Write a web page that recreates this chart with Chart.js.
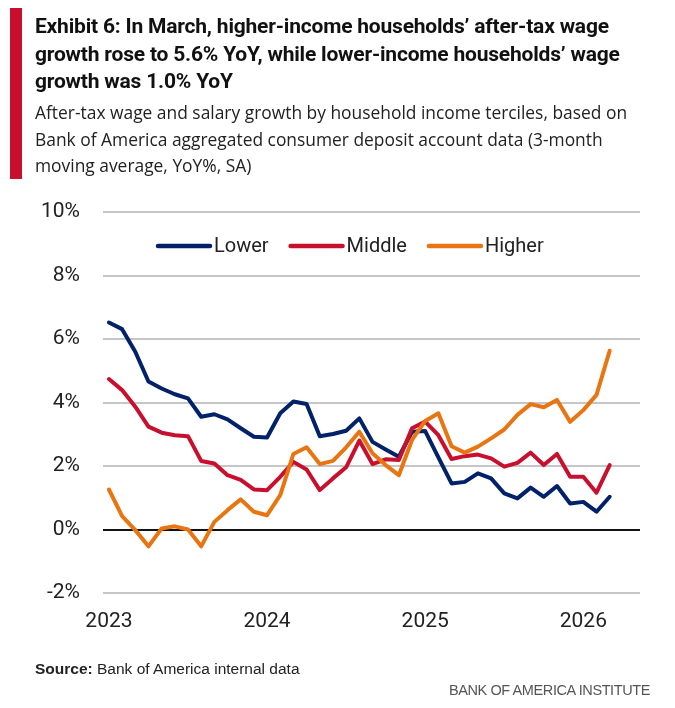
<!DOCTYPE html>
<html>
<head>
<meta charset="utf-8">
<script src="https://cdn.jsdelivr.net/npm/chart.js@4"></script>
<style>
  body { margin: 0; background: #fff; }
  #wrap { position: relative; width: 675px; height: 708px; overflow: hidden; }
  #bar { position: absolute; left: 10px; top: 8px; width: 12px; height: 171px; background: #c8102e; }
  #title { position: absolute; left: 35px; top: 13px; font-family: Roboto, sans-serif; font-weight: 700;
    font-size: 21px; line-height: 27.5px; color: #111; letter-spacing: -0.2px; white-space: nowrap; }
  #sub { position: absolute; left: 35px; top: 99px; font-family: "Open Sans", sans-serif;
    font-size: 17.4px; line-height: 26.5px; color: #222; white-space: nowrap; }
  #source { position: absolute; left: 35px; top: 660px; font-family: "Liberation Sans Narrow", sans-serif;
    font-size: 15.5px; color: #222; }
  #brand { position: absolute; right: 25px; top: 682px; font-family: "Liberation Sans Narrow", sans-serif;
    font-size: 14.5px; color: #555; letter-spacing: -0.4px; }
  canvas { position: absolute; left: 0; top: 0; }
</style>
</head>
<body>
<div id="wrap">
  <canvas id="myChart" width="675" height="708"></canvas>
  <div id="bar"></div>
  <div id="title">Exhibit 6: In March, higher-income households’ after-tax wage<br>growth rose to 5.6% YoY, while lower-income households’ wage<br>growth was 1.0% YoY</div>
  <div id="sub">After-tax wage and salary growth by household income terciles, based on<br>Bank of America aggregated consumer deposit account data (3-month<br>moving average, YoY%, SA)</div>
  <div id="source"><b>Source:</b> Bank of America internal data</div>
  <div id="brand">BANK OF AMERICA INSTITUTE</div>
</div>
<script>
// monthly, Jan 2023 .. Mar 2026
const months = [];
for (let y = 2023; y <= 2026; y++) {
	for (let m = 1; m <= 12; m++) {
		if (y === 2026 && m > 3) break;
		months.push(y + "-" + String(m).padStart(2, "0"));
	}
}
const yearTicks = [2023, 2024, 2025, 2026];

const lower = [6.52, 6.31, 5.60, 4.66, 4.44, 4.26, 4.13, 3.55, 3.63, 3.47, 3.19, 2.92,
	2.90, 3.66, 4.03, 3.95, 2.94, 3.01, 3.11, 3.50, 2.76, 2.52, 2.29, 3.08,
	3.10, 2.27, 1.45, 1.50, 1.77, 1.61, 1.14, 0.98, 1.32, 1.03, 1.37, 0.82,
	0.87, 0.56, 1.03];
const middle = [4.74, 4.39, 3.87, 3.24, 3.05, 2.97, 2.94, 2.16, 2.08, 1.71, 1.56, 1.26,
	1.24, 1.66, 2.13, 1.89, 1.24, 1.61, 1.96, 2.80, 2.06, 2.21, 2.19, 3.19,
	3.40, 2.97, 2.22, 2.31, 2.36, 2.24, 1.98, 2.10, 2.42, 2.03, 2.38, 1.66,
	1.66, 1.16, 2.03];
const higher = [1.26, 0.42, -0.02, -0.53, 0.03, 0.10, 0.00, -0.53, 0.24, 0.61, 0.95, 0.56,
	0.45, 1.08, 2.38, 2.59, 2.06, 2.16, 2.59, 3.08, 2.40, 2.03, 1.71, 2.82,
	3.42, 3.66, 2.62, 2.42, 2.61, 2.87, 3.15, 3.61, 3.95, 3.85, 4.08, 3.39,
	3.76, 4.24, 5.63];

const toPoints = (vals) => vals.map((v, i) => ({ x: i, y: v }));
const FONT = "Roboto, sans-serif";
const TXT = "#222";

// legend drawn inside the plot, just under the top gridline
const insideLegend = {
	id: "insideLegend",
	afterDraw(chart) {
		const c = chart.ctx;
		const area = chart.chartArea;
		let x = area.left + 53;
		const y = area.top + 34;
		c.save();
		c.font = "20px " + FONT;
		c.textBaseline = "middle";
		c.lineCap = "round";
		c.lineWidth = 4.5;
		chart.data.datasets.forEach((ds) => {
			c.strokeStyle = ds.borderColor;
			c.beginPath();
			c.moveTo(x + 2, y);
			c.lineTo(x + 54, y);
			c.stroke();
			x += 58;
			c.fillStyle = TXT;
			c.fillText(ds.label, x, y + 1);
			x += c.measureText(ds.label).width + 20;
		});
		c.restore();
	},
};

const ctx = document.getElementById("myChart");

new Chart(ctx, {
	type: "line",
	data: {
		datasets: [
			{ label: "Lower", data: toPoints(lower), borderColor: "#012169", order: 3 },
			{ label: "Middle", data: toPoints(middle), borderColor: "#c8102e", order: 2 },
			{ label: "Higher", data: toPoints(higher), borderColor: "#e87511", order: 1 },
		],
	},
	plugins: [insideLegend],
	options: {
		responsive: false,
		animation: false,
		elements: {
			line: { borderWidth: 4, tension: 0, borderCapStyle: "round", borderJoinStyle: "round" },
			point: { radius: 0 },
		},
		layout: { padding: { top: 212, left: 0, right: 35, bottom: 75 } },
		plugins: {
			tooltip: { enabled: false },
			legend: { display: false },
		},
		scales: {
			x: {
				type: "linear",
				min: -0.45,
				max: 40.3,
				grid: { display: false },
				border: { display: false },
				afterBuildTicks: (s) => { s.ticks = yearTicks.map((y) => ({ value: months.indexOf(y + "-01") })); },
				afterFit: (s) => { s.height = 40; },
				ticks: {
					padding: 8,
					color: TXT,
					font: { family: FONT, size: 21 },
					callback: (v) => months[v].slice(0, 4),
				},
			},
			y: {
				min: -2,
				max: 10,
				afterFit: (s) => { s.width = 103; },
				border: { display: false },
				grid: {
					drawTicks: false,
					color: (c) => (c.tick.value === 0 ? "#111" : "#c6c6c6"),
					lineWidth: 2,
				},
				ticks: {
					stepSize: 2,
					padding: 23,
					color: TXT,
					font: { family: FONT, size: 21 },
					callback: (v) => v + "%",
				},
			},
		},
	},
});
</script>
</body>
</html>
